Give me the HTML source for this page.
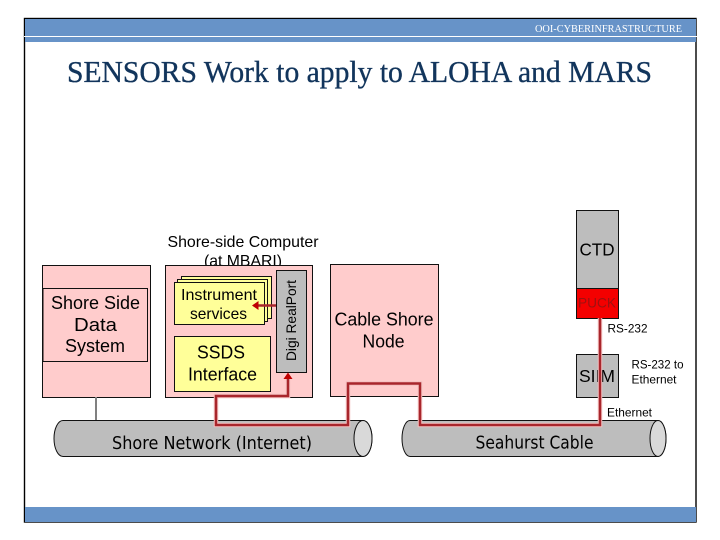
<!DOCTYPE html>
<html>
<head>
<meta charset="utf-8">
<style>
html,body{margin:0;padding:0;background:#fff}
svg{display:block}
text{font-family:"Liberation Sans",sans-serif;fill:#000}
.s{font-family:"Liberation Serif",serif}
.d{font-family:"DejaVu Sans",sans-serif}
</style>
</head>
<body>
<svg width="720" height="540" viewBox="0 0 720 540" xmlns="http://www.w3.org/2000/svg">
<rect x="0" y="0" width="720" height="540" fill="#fff"/>
<!-- frame -->
<rect x="24.5" y="18.5" width="671.5" height="503.5" fill="#fff" stroke="#000" stroke-width="1.4"/>
<rect x="25" y="19" width="671" height="23" fill="#6793c8"/>
<rect x="24" y="36" width="673" height="1" fill="#fff"/>
<rect x="25" y="507" width="671" height="15" fill="#6793c8"/>
<text class="s" x="535" y="32" font-size="10.5" textLength="147" lengthAdjust="spacingAndGlyphs" style="fill:#fff">OOI-CYBERINFRASTRUCTURE</text>
<text class="s" x="67" y="82" font-size="31" textLength="585" lengthAdjust="spacingAndGlyphs" style="fill:#12355c;stroke:#12355c;stroke-width:.35">SENSORS Work to apply to ALOHA and MARS</text>

<!-- labels under box -->
<text x="167.5" y="247" font-size="16" textLength="151" lengthAdjust="spacingAndGlyphs">Shore-side Computer</text>
<text x="204" y="266" font-size="16" textLength="78" lengthAdjust="spacingAndGlyphs">(at MBARI)</text>

<!-- pink boxes -->
<rect x="42.5" y="265.5" width="108" height="132" fill="#ffcccc" stroke="#111" stroke-width="1"/>
<rect x="43" y="288.5" width="104.5" height="73" fill="#ffcccc" stroke="#111" stroke-width="1"/>
<rect x="165.5" y="265.5" width="147" height="132" fill="#ffcccc" stroke="#111" stroke-width="1"/>
<rect x="330.5" y="264.5" width="108" height="132" fill="#ffcccc" stroke="#111" stroke-width="1"/>

<text x="51" y="309" font-size="18" textLength="89" lengthAdjust="spacingAndGlyphs">Shore Side</text>
<text x="74" y="331" font-size="18" textLength="43" lengthAdjust="spacingAndGlyphs">Data</text>
<text x="65" y="352" font-size="18" textLength="60" lengthAdjust="spacingAndGlyphs">System</text>

<!-- instrument stack -->
<rect x="181.5" y="276.5" width="90" height="42" fill="#ffff99" stroke="#111" stroke-width="1"/>
<rect x="177.5" y="279.5" width="90" height="42" fill="#ffff99" stroke="#111" stroke-width="1"/>
<rect x="174.5" y="282.5" width="90" height="42" fill="#ffff99" stroke="#111" stroke-width="1"/>
<text x="181" y="300" font-size="16" textLength="76" lengthAdjust="spacingAndGlyphs">Instrument</text>
<text x="190" y="319" font-size="16" textLength="57" lengthAdjust="spacingAndGlyphs">services</text>

<rect x="174.5" y="336.5" width="96" height="55" fill="#ffff99" stroke="#111" stroke-width="1"/>
<text x="197" y="358.5" font-size="18" textLength="48" lengthAdjust="spacingAndGlyphs">SSDS</text>
<text x="188" y="380.5" font-size="18" textLength="69" lengthAdjust="spacingAndGlyphs">Interface</text>

<rect x="276.5" y="270.5" width="30" height="102" fill="#bdbdbd" stroke="#111" stroke-width="1"/>
<text transform="translate(296,361) rotate(-90)" font-size="14" textLength="81" lengthAdjust="spacingAndGlyphs">Digi RealPort</text>

<text x="334.5" y="325.5" font-size="18" textLength="99" lengthAdjust="spacingAndGlyphs">Cable Shore</text>
<text x="362.5" y="347.5" font-size="18" textLength="42" lengthAdjust="spacingAndGlyphs">Node</text>

<!-- CTD / PUCK / SIIM -->
<rect x="576.5" y="210.5" width="42" height="78" fill="#bdbdbd" stroke="#111" stroke-width="1"/>
<text x="579.5" y="255.5" font-size="17.5" textLength="35" lengthAdjust="spacingAndGlyphs">CTD</text>
<rect x="576.5" y="288.5" width="42" height="30" fill="#f40000" stroke="#111" stroke-width="1"/>
<text x="578" y="307.5" font-size="14" textLength="38" lengthAdjust="spacingAndGlyphs" style="fill:#a01010">PUCK</text>
<rect x="576.5" y="354.5" width="42" height="43" fill="#bdbdbd" stroke="#111" stroke-width="1"/>
<text x="579" y="382" font-size="17.5" textLength="36" lengthAdjust="spacingAndGlyphs">SIIM</text>

<text x="607.5" y="332.5" font-size="12" textLength="40" lengthAdjust="spacingAndGlyphs">RS-232</text>
<text x="631.5" y="368.5" font-size="12" textLength="52" lengthAdjust="spacingAndGlyphs">RS-232 to</text>
<text x="631.5" y="383.5" font-size="12" textLength="45" lengthAdjust="spacingAndGlyphs">Ethernet</text>
<text x="607" y="416.5" font-size="12" textLength="45" lengthAdjust="spacingAndGlyphs">Ethernet</text>

<!-- grey connector -->
<line x1="96" y1="397" x2="96" y2="421" stroke="#808080" stroke-width="2"/>

<!-- cylinders -->
<path d="M63 420.5 H363 A9 18 0 0 1 363 456.5 H63 A9 18 0 0 1 63 420.5 Z" fill="#bdbdbd" stroke="#111" stroke-width="1"/>
<ellipse cx="363" cy="438.5" rx="9" ry="18" fill="#d9d9d9" stroke="#111" stroke-width="1"/>
<text class="d" x="112" y="449" font-size="17.5" textLength="200" lengthAdjust="spacingAndGlyphs">Shore Network (Internet)</text>

<path d="M410 420.5 H658 A8 18 0 0 1 658 456.5 H410 A8 18 0 0 1 410 420.5 Z" fill="#bdbdbd" stroke="#111" stroke-width="1"/>
<ellipse cx="658" cy="438.5" rx="8" ry="18" fill="#d9d9d9" stroke="#111" stroke-width="1"/>
<text class="d" x="475.5" y="448.5" font-size="17.5" textLength="118" lengthAdjust="spacingAndGlyphs">Seahurst Cable</text>

<!-- red route -->
<path d="M288 378 V396 H216 V425 H348 V383.5 H420 V425 H600 V318" fill="none" stroke="#f4c0c0" stroke-width="4.5"/>
<path d="M288 378 V396 H216 V425 H348 V383.5 H420 V425 H600 V318" fill="none" stroke="#a8262c" stroke-width="2.5"/>
<polygon points="288,372.5 283.5,379 292.5,379" fill="#c00000"/>
<line x1="276" y1="305.5" x2="257" y2="305.5" stroke="#a8262c" stroke-width="2.5"/>
<polygon points="252,305.5 258.5,301 258.5,310" fill="#c00000"/>
</svg>
</body>
</html>
